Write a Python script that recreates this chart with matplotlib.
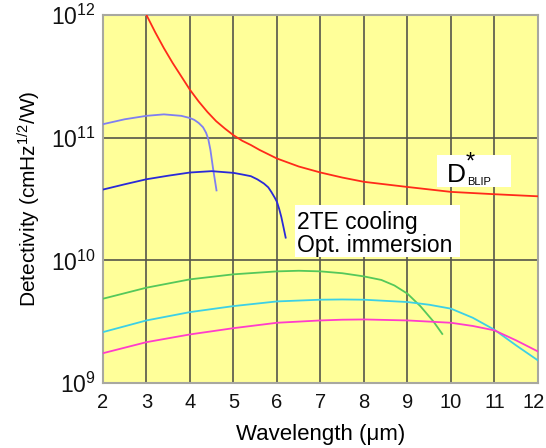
import numpy as np
import matplotlib
matplotlib.use("Agg")
import matplotlib.pyplot as plt
from matplotlib.patches import Rectangle
from matplotlib.transforms import ScaledTranslation

plt.rcParams["font.family"] = ["Liberation Sans", "DejaVu Sans"]
plt.rcParams["mathtext.fontset"] = "custom"
plt.rcParams["mathtext.rm"] = "Liberation Sans"
plt.rcParams["mathtext.it"] = "Liberation Sans:italic"
plt.rcParams["mathtext.bf"] = "Liberation Sans:bold"

# Detectivity curves, values given as log10(D*)
blip_x = [3.0, 3.2, 3.4, 3.6, 3.8, 4.0, 4.2, 4.4, 4.6, 4.8, 5.0, 5.2, 5.4, 5.6, 5.8,
          6.0, 6.5, 7.0, 7.5, 8.0, 9.0, 10.0, 11.0, 12.0]
blip_log = [12.0, 11.86, 11.73, 11.61, 11.50, 11.39, 11.295, 11.21, 11.135, 11.075,
            11.02, 10.975, 10.94, 10.90, 10.865, 10.83, 10.765, 10.716, 10.675, 10.64,
            10.598, 10.558, 10.539, 10.522]

imm_short_x = [2.0, 2.5, 3.0, 3.4, 3.8, 4.0, 4.1, 4.2, 4.3, 4.37, 4.42, 4.47, 4.53, 4.61]
imm_short_log = [11.11, 11.15, 11.178, 11.19, 11.178, 11.16, 11.145, 11.12, 11.085,
                 11.04, 10.99, 10.90, 10.75, 10.57]

imm_mid_x = [2.0, 2.5, 3.0, 3.5, 4.0, 4.5, 5.0, 5.2, 5.4, 5.55, 5.7, 5.8, 5.87, 5.95,
             6.0, 6.05, 6.1, 6.15, 6.2]
imm_mid_log = [10.577, 10.62, 10.661, 10.69, 10.716, 10.727, 10.713, 10.70, 10.686,
               10.66, 10.626, 10.595, 10.558, 10.51, 10.476, 10.42, 10.353, 10.27, 10.185]

green_x = [2.0, 3.0, 4.0, 5.0, 6.0, 6.5, 7.0, 7.5, 8.0, 8.4, 8.7, 9.0, 9.3, 9.6, 9.8]
green_log = [9.687, 9.777, 9.845, 9.886, 9.910, 9.915, 9.910, 9.895, 9.869, 9.84,
             9.795, 9.728, 9.625, 9.50, 9.40]

cyan_x = [2.0, 3.0, 4.0, 5.0, 6.0, 7.0, 7.5, 8.0, 9.0, 9.5, 10.0, 10.5, 11.0, 11.5, 12.0]
cyan_log = [9.415, 9.51, 9.578, 9.627, 9.665, 9.679, 9.681, 9.679, 9.66, 9.638, 9.606,
            9.532, 9.434, 9.306, 9.184]

magenta_x = [2.0, 3.0, 4.0, 5.0, 6.0, 7.0, 7.5, 8.0, 9.0, 10.0, 10.5, 11.0, 11.5, 12.0]
magenta_log = [9.243, 9.333, 9.396, 9.447, 9.491, 9.51, 9.516, 9.518, 9.51, 9.491,
               9.465, 9.429, 9.347, 9.257]

x_ticks = [2, 3, 4, 5, 6, 7, 8, 9, 10, 11, 12]

fig = plt.figure(figsize=(5.46, 4.48), dpi=100)
ax = fig.add_axes([0.1886, 0.1451, 0.7967, 0.8214])
ax.set_facecolor("#ffff99")

series = [
    (blip_x, blip_log, "#ff2a1a"),
    (imm_short_x, imm_short_log, "#7f7ff2"),
    (imm_mid_x, imm_mid_log, "#2a2ad8"),
    (green_x, green_log, "#55c85a"),
    (cyan_x, cyan_log, "#3cd0e6"),
    (magenta_x, magenta_log, "#ff3ccc"),
]
for xs, logs, col in series:
    ax.plot(xs, 10 ** np.array(logs), color=col, lw=1.3, zorder=3,
            solid_joinstyle="round")

ax.set_yscale("log")
ax.set_xlim(2, 12)
ax.set_ylim(1e9, 1e12)
ax.set_xticks(x_ticks)
ax.set_xticklabels([str(t) for t in x_ticks])
ax.set_yticks([1e9, 1e10, 1e11, 1e12])
ax.set_yticklabels([r"$10^{9}$", r"$10^{10}$", r"$10^{11}$", r"$10^{12}$"])
ax.yaxis.set_minor_locator(matplotlib.ticker.NullLocator())
ax.tick_params(axis="both", length=0, colors="#111111")
ax.tick_params(axis="x", pad=7, labelsize=14.5)
ax.tick_params(axis="y", pad=5, labelsize=16.5)

# keep the last wavelength label inside the canvas
last = ax.get_xticklabels()[-1]
last.set_transform(last.get_transform() + ScaledTranslation(-4 / 100, 0, fig.dpi_scale_trans))

ax.grid(True, which="major", color="#55554a", lw=1.2, zorder=1)
ax.set_axisbelow(True)
for sp in ax.spines.values():
    sp.set_color("#a8a8a0")
    sp.set_linewidth(1.5)

ax.set_xlabel("Wavelength (μm)", fontsize=16, labelpad=9)
ax.set_ylabel("Detectivity (cmHz$^{1/2}$/W)", fontsize=15, labelpad=6)

# D*_BLIP label on a white panel
ax.add_patch(Rectangle((9.67, 10 ** 10.596), 11.39 - 9.67, 10 ** 10.857 - 10 ** 10.596,
                       facecolor="white", edgecolor="none", zorder=4))
ax.text(9.90, 10 ** 10.637, "D", fontsize=19, ha="left", va="baseline", zorder=5)
ax.text(10.33, 10 ** 10.80, "*", fontsize=17, ha="left", va="center", zorder=5)
ax.text(10.36, 10 ** 10.612, "BLIP", fontsize=8, ha="left", va="baseline", zorder=5)

# detector type label on a white panel
ax.add_patch(Rectangle((6.409, 10 ** 10.024), 10.197 - 6.409, 10 ** 10.449 - 10 ** 10.024,
                       facecolor="white", edgecolor="none", zorder=4))
ax.text(6.455, 10 ** 10.215, "2TE cooling\nOpt. immersion", fontsize=16.5, ha="left",
        va="center", linespacing=0.98, zorder=5)

fig.savefig("out.png", dpi=100)
